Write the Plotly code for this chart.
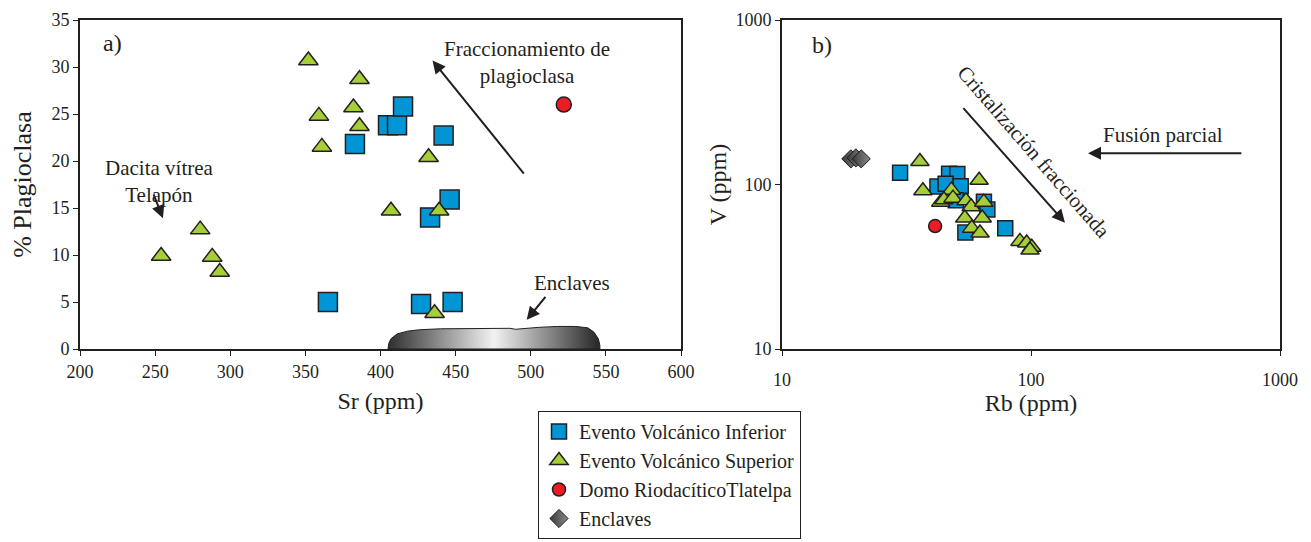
import plotly.graph_objects as go

# ---------------- data: panel a) Sr vs % plagioclasa ----------------
inf_sr = [365, 383, 405, 411, 415, 442, 446, 433, 427, 448]
inf_plag = [5.0, 21.8, 23.8, 23.8, 25.8, 22.7, 15.9, 14.0, 4.8, 5.0]

sup_sr = [352, 386, 382, 359, 386, 361, 432, 407, 439, 436, 280, 254, 288, 293]
sup_plag = [30.7, 28.7, 25.7, 24.8, 23.7, 21.5, 20.4, 14.7, 14.7, 3.8, 12.7, 9.9, 9.8, 8.2]

domo_sr = [522]
domo_plag = [26.0]

# outline of the "Enclaves" field
encl_field_sr = [405, 405.5, 407, 411, 418, 426, 440, 460, 477, 486, 490, 496, 505, 518, 530, 538, 542, 545, 546, 546, 405]
encl_field_pl = [0, 0.6, 1.1, 1.6, 1.9, 2.05, 2.15, 2.2, 2.25, 2.2, 2.1, 2.2, 2.3, 2.4, 2.4, 2.25, 1.8, 1.1, 0.4, 0, 0]

# ---------------- data: panel b) Rb vs V ----------------
inf_rb = [29.8, 46.9, 50.6, 42.1, 45.4, 52.2, 49.9, 64.7, 66.8, 54.5, 78.8]
inf_v = [117.7, 116.1, 116.0, 97.3, 101.0, 97.7, 80.3, 78.5, 70.5, 51.0, 54.3]

sup_rb = [35.8, 36.8, 61.9, 47.9, 43.4, 44.7, 48.6, 54.8, 57.5, 64.6, 54.2, 63.7, 57.8, 62.4, 90.3, 96.1, 100.7, 99.1]
sup_v = [137.9, 91.6, 106.2, 92.4, 78.1, 80.7, 82.6, 79.7, 73.3, 78.1, 62.5, 62.5, 54.3, 50.7, 45.1, 44.1, 41.5, 40.0]

domo_rb = [41.2]
domo_v = [55.9]

encl_rb = [18.9, 19.8, 20.8]
encl_v = [143.2, 145.2, 143.2]

x_ticks_a = [200, 250, 300, 350, 400, 450, 500, 550, 600]
y_ticks_a = [0, 5, 10, 15, 20, 25, 30, 35]
log_ticks = [10, 100, 1000]

# ---------------- styles ----------------
BLUE = "#0096D6"
GREEN = "#A6CE39"
RED = "#ED1C24"
INK = "#231F20"
FONT = "'Times New Roman', 'Liberation Serif', serif"

fig = go.Figure()

# enclave field (gradient filled)
fig.add_trace(go.Scatter(
    x=encl_field_sr, y=encl_field_pl, mode="lines", fill="toself",
    line=dict(color=INK, width=1),
    fillgradient=dict(type="horizontal",
                      colorscale=[[0, "#2e2e2e"], [0.5, "#f2f2f2"], [1, "#262626"]]),
    showlegend=False, hoverinfo="skip", xaxis="x", yaxis="y"))

# panel a markers
fig.add_trace(go.Scatter(
    x=inf_sr, y=inf_plag, mode="markers", name="Evento Volcánico Inferior",
    legendgroup="inf", showlegend=False,
    marker=dict(symbol="square", size=19, color=BLUE, line=dict(color=INK, width=1.5)),
    xaxis="x", yaxis="y"))
fig.add_trace(go.Scatter(
    x=sup_sr, y=sup_plag, mode="markers", name="Evento Volcánico Superior",
    legendgroup="sup", showlegend=False,
    marker=dict(symbol="triangle-up", size=17, color=GREEN, line=dict(color=INK, width=1.5)),
    xaxis="x", yaxis="y"))
fig.add_trace(go.Scatter(
    x=domo_sr, y=domo_plag, mode="markers", name="Domo RiodacíticoTlatelpa",
    legendgroup="domo", showlegend=False,
    marker=dict(symbol="circle", size=15, color=RED, line=dict(color=INK, width=1.5)),
    xaxis="x", yaxis="y"))

# panel b markers
fig.add_trace(go.Scatter(
    x=inf_rb, y=inf_v, mode="markers", name="Evento Volcánico Inferior",
    legendgroup="inf", showlegend=True,
    marker=dict(symbol="square", size=15, color=BLUE, line=dict(color=INK, width=1.5)),
    xaxis="x2", yaxis="y2"))
fig.add_trace(go.Scatter(
    x=sup_rb, y=sup_v, mode="markers", name="Evento Volcánico Superior",
    legendgroup="sup", showlegend=True,
    marker=dict(symbol="triangle-up", size=16, color=GREEN, line=dict(color=INK, width=1.5)),
    xaxis="x2", yaxis="y2"))
fig.add_trace(go.Scatter(
    x=domo_rb, y=domo_v, mode="markers", name="Domo RiodacíticoTlatelpa",
    legendgroup="domo", showlegend=True,
    marker=dict(symbol="circle", size=13, color=RED, line=dict(color=INK, width=1.5)),
    xaxis="x2", yaxis="y2"))
fig.add_trace(go.Scatter(
    x=encl_rb, y=encl_v, mode="markers", name="Enclaves",
    legendgroup="encl", showlegend=True,
    marker=dict(symbol="diamond", size=14, color="#3a3a3a",
                gradient=dict(type="horizontal", color="#8a8a8a"),
                line=dict(color="#1a1a1a", width=1)),
    xaxis="x2", yaxis="y2"))

W, H = 1311, 542
OFF = 8  # page body margin of the written html
def fx(px):
    return (px - OFF) / W
def fy(py):
    return 1 - (py - OFF) / H

axis_common = dict(showline=True, linewidth=2, linecolor=INK, mirror=True,
                   ticks="outside", ticklen=5, tickwidth=1, tickcolor=INK,
                   showgrid=False, zeroline=False,
                   tickfont=dict(family=FONT, size=18, color=INK),
                   title_font=dict(family=FONT, size=24, color=INK))

fig.update_layout(
    width=W, height=H,
    margin=dict(l=0, r=0, t=0, b=0),
    paper_bgcolor="white", plot_bgcolor="white",
    font=dict(family=FONT, color=INK),
    xaxis=dict(domain=[fx(80), fx(681)], range=[200, 600], tickvals=x_ticks_a,
               title=dict(text="Sr (ppm)", standoff=12), anchor="y", automargin=False,
               **axis_common),
    yaxis=dict(domain=[fy(349), fy(20)], range=[0, 35], tickvals=y_ticks_a,
               title=dict(text="% Plagioclasa", standoff=12, font=dict(family=FONT, size=26, color=INK)),
               anchor="x", automargin=False,
               **{k: v for k, v in axis_common.items() if k != "title_font"}),
    xaxis2=dict(domain=[fx(782), fx(1280)], type="log", range=[1, 3], tickvals=log_ticks,
                ticktext=[str(v) for v in log_ticks], ticklabelstandoff=8,
                title=dict(text="Rb (ppm)", standoff=2), anchor="y2", automargin=False,
                **axis_common),
    yaxis2=dict(domain=[fy(349), fy(20)], type="log", range=[1, 3], tickvals=log_ticks,
                ticktext=[str(v) for v in log_ticks],
                title=dict(text="V (ppm)", standoff=2), anchor="x2", automargin=False,
                **axis_common),
    legend=dict(x=fx(538), y=fy(411), xanchor="left", yanchor="top",
                bgcolor="white", bordercolor=INK, borderwidth=1,
                font=dict(family=FONT, size=20, color=INK),
                traceorder="grouped", tracegroupgap=0, itemsizing="trace"),
)

ann_font = dict(family=FONT, size=21, color=INK)
annotations = [
    # panel a
    dict(x=221.3, y=32.6, xref="x", yref="y", text="a)", showarrow=False,
         font=dict(family=FONT, size=24, color=INK)),
    dict(x=497.5, y=30.5, xref="x", yref="y", text="Fraccionamiento de<br>plagioclasa",
         showarrow=False, font=ann_font),
    dict(x=434.6, y=30.7, ax=496.2, ay=18.5, xref="x", yref="y", axref="x", ayref="y",
         text="", showarrow=True, arrowhead=2, arrowsize=1.3, arrowwidth=2, arrowcolor=INK),
    dict(x=253.2, y=17.8, xref="x", yref="y", text="Dacita vítrea<br>Telapón",
         showarrow=False, font=ann_font),
    dict(x=255.2, y=13.9, ax=248.6, ay=16.6, xref="x", yref="y", axref="x", ayref="y",
         text="", showarrow=True, arrowhead=2, arrowsize=1.3, arrowwidth=2, arrowcolor=INK),
    dict(x=527.5, y=7.0, xref="x", yref="y", text="Enclaves", showarrow=False, font=ann_font),
    dict(x=497.3, y=3.1, ax=510.6, ay=5.7, xref="x", yref="y", axref="x", ayref="y",
         text="", showarrow=True, arrowhead=2, arrowsize=1.3, arrowwidth=2, arrowcolor=INK),
    # panel b (log axes: positions in log10 units)
    dict(x=1.161, y=2.848, xref="x2", yref="y2", text="b)", showarrow=False,
         font=dict(family=FONT, size=24, color=INK)),
    dict(x=2.012, y=2.2, xref="x2", yref="y2", text="Cristalización fraccionada",
         textangle=49, showarrow=False, font=ann_font),
    dict(x=2.1365, y=1.768, ax=1.723, ay=2.473, xref="x2", yref="y2", axref="x2", ayref="y2",
         text="", showarrow=True, arrowhead=2, arrowsize=1.3, arrowwidth=2, arrowcolor=INK),
    dict(x=2.530, y=2.303, xref="x2", yref="y2", text="Fusión parcial", showarrow=False,
         font=ann_font),
    dict(x=2.229, y=2.19, ax=2.851, ay=2.19, xref="x2", yref="y2", axref="x2", ayref="y2",
         text="", showarrow=True, arrowhead=2, arrowsize=1.3, arrowwidth=2, arrowcolor=INK),
]
fig.update_layout(annotations=annotations)

fig.write_html("out.html")
